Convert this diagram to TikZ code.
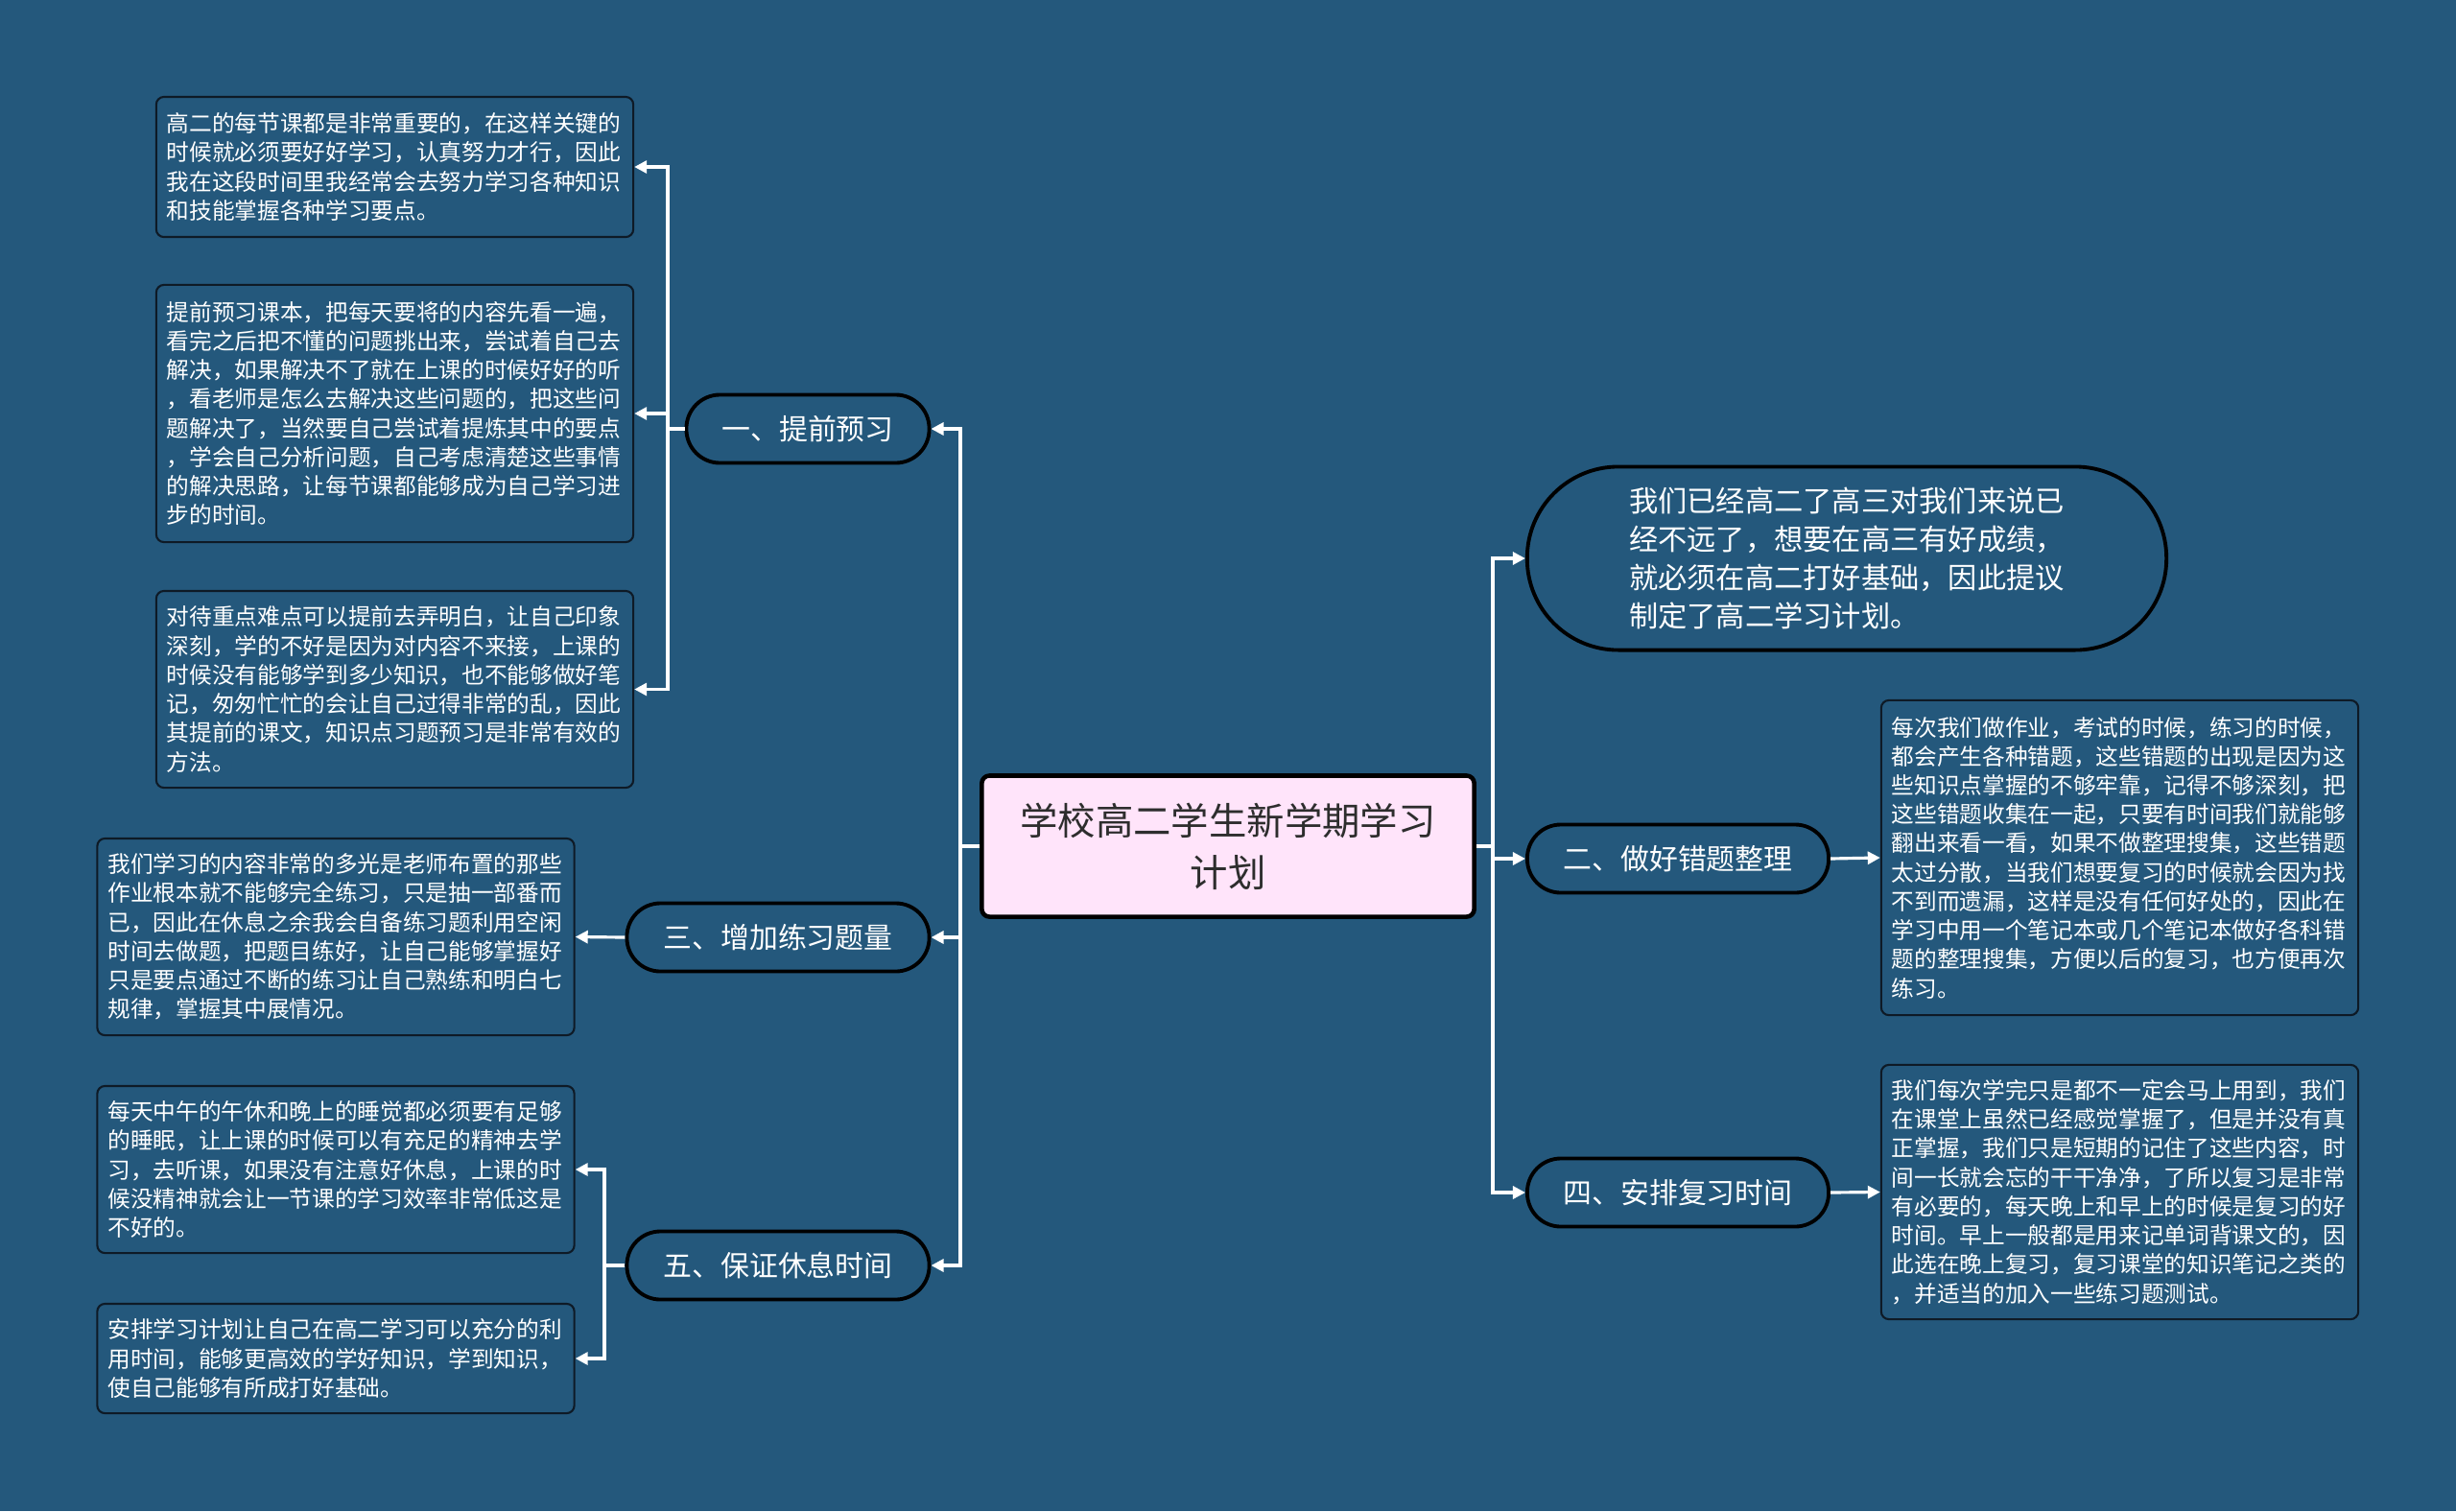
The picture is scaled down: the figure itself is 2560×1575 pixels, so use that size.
\documentclass[tikz,border=0pt]{standalone}
\usepackage{fontspec}
\setmainfont{Noto Sans CJK SC}
\usetikzlibrary{arrows.meta, positioning}
\definecolor{bgblue}{RGB}{36, 88, 124}
\definecolor{rootpink}{RGB}{255, 228, 250}
\definecolor{edgedark}{RGB}{14, 26, 38}
\definecolor{rootink}{RGB}{45, 45, 45}

\begin{document}
\begin{tikzpicture}[
    x=0.01cm, y=-0.01cm,
    rootnode/.style={draw=black, line width=1.3pt, fill=rootpink, rounded corners=0.08cm,
      minimum width=5.13cm, minimum height=1.47cm, align=center, text=rootink,
      font=\fontsize{11.2}{15.4}\selectfont},
    branch/.style={draw=black, line width=1.1pt, rounded corners=0.35cm,
      minimum height=0.71cm, inner xsep=0.3cm, text=white,
      font=\fontsize{8.5}{11}\selectfont},
    leaf/.style={draw=edgedark, line width=0.6pt, rounded corners=0.08cm,
      text width=4.75cm, align=left, inner xsep=0.11cm, text=white,
      font=\fontsize{6.73}{8.6}\selectfont},
    link/.style={draw=white, line width=0.9pt, -{Triangle[length=0.13cm, width=0.13cm]}},
]
  \useasboundingbox (0,0) rectangle (2560,1575);
  \fill[bgblue] (0,0) rectangle (2560,1575);

  % Root
  \node[rootnode] (root) at (1280,882) {学校高二学生新学期学习\\计划};

  % Left branches
  \node[branch, minimum width=2.53cm] (b1) at (842,447) {一、提前预习};
  \node[branch, minimum width=3.15cm] (b3) at (811,977) {三、增加练习题量};
  \node[branch, minimum width=3.15cm] (b5) at (811,1319) {五、保证休息时间};

  % Right branches
  \node[branch, rounded corners=0.95cm, minimum width=6.66cm, minimum height=1.91cm,
    align=left, font=\fontsize{8.6}{11.3}\selectfont] (intro) at (1925,582)
    {我们已经高二了高三对我们来说已\\
     经不远了，想要在高三有好成绩，\\
     就必须在高二打好基础，因此提议\\
     制定了高二学习计划。};
  \node[branch, minimum width=3.14cm] (b2) at (1749,895) {二、做好错题整理};
  \node[branch, minimum width=3.14cm] (b4) at (1749,1243) {四、安排复习时间};

  % Leaves of 一
  \node[leaf, minimum height=1.46cm] (l1) at (411.5,174)
    {高二的每节课都是非常重要的，在这样关键的\\
     时候就必须要好好学习，认真努力才行，因此\\
     我在这段时间里我经常会去努力学习各种知识\\
     和技能掌握各种学习要点。};
  \node[leaf, minimum height=2.68cm] (l2) at (411.5,431)
    {提前预习课本，把每天要将的内容先看一遍，\\
     看完之后把不懂的问题挑出来，尝试着自己去\\
     解决，如果解决不了就在上课的时候好好的听\\
     ，看老师是怎么去解决这些问题的，把这些问\\
     题解决了，当然要自己尝试着提炼其中的要点\\
     ，学会自己分析问题，自己考虑清楚这些事情\\
     的解决思路，让每节课都能够成为自己学习进\\
     步的时间。};
  \node[leaf, minimum height=2.05cm] (l3) at (411.5,718.5)
    {对待重点难点可以提前去弄明白，让自己印象\\
     深刻，学的不好是因为对内容不来接，上课的\\
     时候没有能够学到多少知识，也不能够做好笔\\
     记，匆匆忙忙的会让自己过得非常的乱，因此\\
     其提前的课文，知识点习题预习是非常有效的\\
     方法。};

  % Leaf of 三
  \node[leaf, minimum height=2.05cm] (l4) at (350,976.5)
    {我们学习的内容非常的多光是老师布置的那些\\
     作业根本就不能够完全练习，只是抽一部番而\\
     已，因此在休息之余我会自备练习题利用空闲\\
     时间去做题，把题目练好，让自己能够掌握好\\
     只是要点通过不断的练习让自己熟练和明白七\\
     规律，掌握其中展情况。};

  % Leaves of 五
  \node[leaf, minimum height=1.74cm] (l5) at (350,1219)
    {每天中午的午休和晚上的睡觉都必须要有足够\\
     的睡眠，让上课的时候可以有充足的精神去学\\
     习，去听课，如果没有注意好休息，上课的时\\
     候没精神就会让一节课的学习效率非常低这是\\
     不好的。};
  \node[leaf, minimum height=1.14cm] (l6) at (350,1416)
    {安排学习计划让自己在高二学习可以充分的利\\
     用时间，能够更高效的学好知识，学到知识，\\
     使自己能够有所成打好基础。};

  % Leaves of 二 and 四
  \node[leaf, minimum height=3.28cm] (r1) at (2209.5,894)
    {每次我们做作业，考试的时候，练习的时候，\\
     都会产生各种错题，这些错题的出现是因为这\\
     些知识点掌握的不够牢靠，记得不够深刻，把\\
     这些错题收集在一起，只要有时间我们就能够\\
     翻出来看一看，如果不做整理搜集，这些错题\\
     太过分散，当我们想要复习的时候就会因为找\\
     不到而遗漏，这样是没有任何好处的，因此在\\
     学习中用一个笔记本或几个笔记本做好各科错\\
     题的整理搜集，方便以后的复习，也方便再次\\
     练习。};
  \node[leaf, minimum height=2.65cm] (r2) at (2209.5,1242.5)
    {我们每次学完只是都不一定会马上用到，我们\\
     在课堂上虽然已经感觉掌握了，但是并没有真\\
     正掌握，我们只是短期的记住了这些内容，时\\
     间一长就会忘的干干净净，了所以复习是非常\\
     有必要的，每天晚上和早上的时候是复习的好\\
     时间。早上一般都是用来记单词背课文的，因\\
     此选在晚上复习，复习课堂的知识笔记之类的\\
     ，并适当的加入一些练习题测试。};

  % Connectors
  \coordinate (lmain) at (1001,882);
  \coordinate (rmain) at (1556,882);
  \coordinate (s1) at (696,447);
  \coordinate (s5) at (630,1319);

  \draw[link] (root.west) -- (lmain) |- (b1.east);
  \draw[link] (root.west) -- (lmain) |- (b3.east);
  \draw[link] (root.west) -- (lmain) |- (b5.east);
  \draw[link] (root.east) -- (rmain) |- (intro.west);
  \draw[link] (root.east) -- (rmain) |- (b2.west);
  \draw[link] (root.east) -- (rmain) |- (b4.west);

  \draw[link] (b1.west) -- (s1) |- (l1.east);
  \draw[link] (b1.west) -- (s1) |- (l2.east);
  \draw[link] (b1.west) -- (s1) |- (l3.east);
  \draw[link] (b3.west) -- (l4.east);
  \draw[link] (b5.west) -- (s5) |- (l5.east);
  \draw[link] (b5.west) -- (s5) |- (l6.east);
  \draw[link] (b2.east) -- (r1.west);
  \draw[link] (b4.east) -- (r2.west);
\end{tikzpicture}
\end{document}
